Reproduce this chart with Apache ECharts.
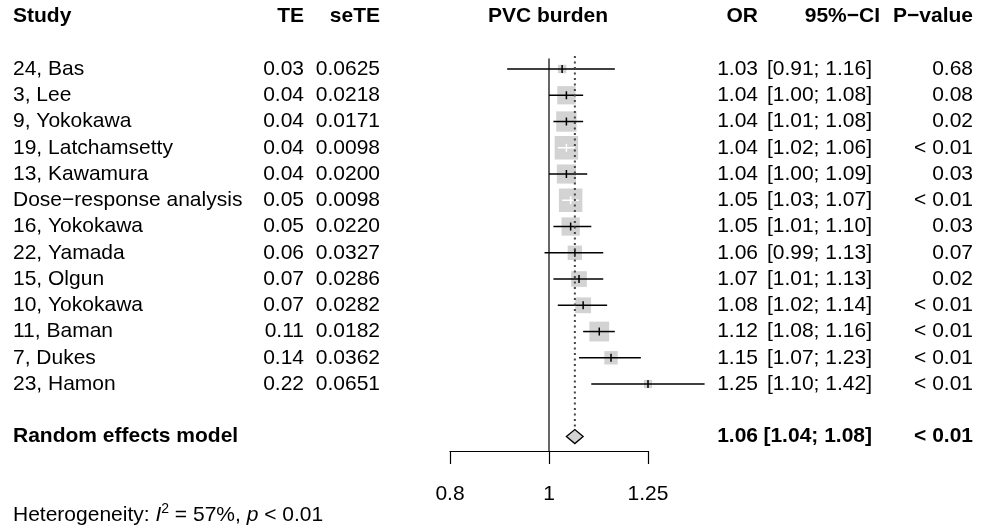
<!DOCTYPE html>
<html>
<head>
<meta charset="utf-8">
<script src="https://cdn.jsdelivr.net/npm/echarts@6/dist/echarts.min.js"></script>
<style>
  html, body { margin: 0; background: #fff; }
  #chart { width: 988px; height: 531px; }
</style>
</head>
<body>
<div id="chart"></div>
<script>
// study rows, top to bottom
const studies = ['24, Bas', '3, Lee', '9, Yokokawa', '19, Latchamsetty', '13, Kawamura',
  'Dose\u2212response analysis', '16, Yokokawa', '22, Yamada', '15, Olgun', '10, Yokokawa',
  '11, Baman', '7, Dukes', '23, Hamon'];
const te = ['0.03', '0.04', '0.04', '0.04', '0.04', '0.05', '0.05', '0.06', '0.07', '0.07', '0.11', '0.14', '0.22'];
const seTE = ['0.0625', '0.0218', '0.0171', '0.0098', '0.0200', '0.0098', '0.0220', '0.0327', '0.0286', '0.0282', '0.0182', '0.0362', '0.0651'];
const oddsRatio = [1.03, 1.04, 1.04, 1.04, 1.04, 1.05, 1.05, 1.06, 1.07, 1.08, 1.12, 1.15, 1.25];
const ciLow = [0.91, 1.00, 1.01, 1.02, 1.00, 1.03, 1.01, 0.99, 1.01, 1.02, 1.08, 1.07, 1.10];
const ciHigh = [1.16, 1.08, 1.08, 1.06, 1.09, 1.07, 1.10, 1.13, 1.13, 1.14, 1.16, 1.23, 1.42];
const pValue = ['0.68', '0.08', '0.02', '< 0.01', '0.03', '< 0.01', '0.03', '0.07', '0.02', '< 0.01', '< 0.01', '< 0.01', '< 0.01'];
// random effects weights (%)
const weight = [1.8, 8.4, 10.4, 13.9, 9.2, 13.9, 8.4, 5.2, 6.2, 6.3, 9.9, 4.5, 1.7];

// pooled estimate: [OR, lower, upper]
const pooled = [1.06, 1.04, 1.08];
const pooledP = '< 0.01';
const xTicks = [0.8, 1, 1.25];
const headers = ['Study', 'TE', 'seTE', 'PVC burden', 'OR', '95%\u2212CI', 'P\u2212value'];

const FONT = '"Liberation Sans", Arial, Helvetica, sans-serif';
const FS = 21;
const FIRST_ROW = 2, POOLED_ROW = 16, AXIS_ROW = 16.55, HET_ROW = 19;
const COL = { study: 13, te: 304, se: 380, plot: 548, or: 758, ci: 872, ciHead: 880, p: 973 };
const BOX_SCALE = 23.5 / Math.sqrt(13.9);
const ln = Math.log;

const chart = echarts.init(document.getElementById('chart'));

function txt(x, y, s, align, bold) {
  return {
    type: 'text',
    style: {
      x: x, y: y, text: s, align: align, verticalAlign: 'middle',
      font: (bold ? 'bold ' : '') + FS + 'px ' + FONT, fill: '#000'
    }
  };
}
function ciText(lo, hi) {
  return '[' + lo.toFixed(2) + '; ' + hi.toFixed(2) + ']';
}

const studyData = studies.map((s, i) => [ln(oddsRatio[i]), FIRST_ROW + i, ln(ciLow[i]), ln(ciHigh[i]), weight[i]]);
const tableRows = studies.map((s, i) => ({
  row: FIRST_ROW + i,
  cells: [s, te[i], seTE[i], oddsRatio[i].toFixed(2), ciText(ciLow[i], ciHigh[i]), pValue[i]],
  bold: false
}));
tableRows.unshift({ row: 0, cells: [headers[0], headers[1], headers[2], headers[4], headers[5], headers[6]], bold: true, title: headers[3] });
tableRows.push({ row: POOLED_ROW, cells: ['Random effects model', '', '', pooled[0].toFixed(2), ciText(pooled[1], pooled[2]), pooledP], bold: true });

chart.setOption({
  animation: false,
  grid: { left: 450, right: 340, top: 16.5, bottom: 80 },
  xAxis: {
    type: 'value',
    position: 'bottom',
    min: ln(xTicks[0]),
    max: ln(xTicks[xTicks.length - 1]),
    splitLine: { show: false },
    axisLine: { show: true, onZero: false, lineStyle: { color: '#000', width: 1.2 } },
    axisTick: { show: true, length: 13, lineStyle: { color: '#000', width: 1.2 }, customValues: xTicks.map(ln) },
    axisLabel: {
      customValues: xTicks.map(ln), margin: 33, color: '#000', fontSize: FS, fontFamily: FONT,
      formatter: v => String(xTicks.reduce((a, b) => Math.abs(ln(b) - v) < Math.abs(ln(a) - v) ? b : a))
    }
  },
  yAxis: { type: 'value', inverse: true, min: 0, max: AXIS_ROW, show: false },
  series: [
    {
      // null-effect line
      type: 'line', silent: true, symbol: 'none', clip: false,
      data: [[ln(1), 1.6], [ln(1), AXIS_ROW]],
      lineStyle: { color: '#000', width: 1.2 }
    },
    {
      // pooled estimate line
      type: 'line', silent: true, symbol: 'none', clip: false,
      data: [[ln(pooled[0]), 1.5], [ln(pooled[0]), POOLED_ROW - 0.27]],
      lineStyle: { color: '#444', width: 2, type: [2, 3.5] }
    },
    {
      type: 'custom', clip: false, silent: true,
      data: studyData,
      renderItem: (params, api) => {
        const c = api.coord([api.value(0), api.value(1)]);
        const lo = api.coord([api.value(2), api.value(1)]);
        const hi = api.coord([api.value(3), api.value(1)]);
        const size = BOX_SCALE * Math.sqrt(api.value(4));
        const inside = lo[0] >= c[0] - size / 2 && hi[0] <= c[0] + size / 2;
        const lineColor = inside ? '#fff' : '#000';
        return {
          type: 'group',
          children: [
            { type: 'rect', shape: { x: c[0] - size / 2, y: c[1] - size / 2, width: size, height: size }, style: { fill: '#d3d3d3' } },
            { type: 'line', shape: { x1: lo[0], y1: c[1], x2: hi[0], y2: c[1] }, style: { stroke: lineColor, lineWidth: 1.5 } },
            { type: 'line', shape: { x1: c[0], y1: c[1] - 4, x2: c[0], y2: c[1] + 4 }, style: { stroke: lineColor, lineWidth: 1.5 } }
          ]
        };
      }
    },
    {
      type: 'custom', clip: false, silent: true,
      data: [[ln(pooled[0]), POOLED_ROW, ln(pooled[1]), ln(pooled[2])]],
      renderItem: (params, api) => {
        const c = api.coord([api.value(0), api.value(1)]);
        const lo = api.coord([api.value(2), api.value(1)]);
        const hi = api.coord([api.value(3), api.value(1)]);
        const h = 7;
        return {
          type: 'polygon',
          shape: { points: [[lo[0], c[1]], [c[0], c[1] - h], [hi[0], c[1]], [c[0], c[1] + h]] },
          style: { fill: '#d3d3d3', stroke: '#000', lineWidth: 1.3 }
        };
      }
    },
    {
      type: 'custom', clip: false, silent: true,
      data: tableRows.map((r, i) => [0, r.row, i]),
      renderItem: (params, api) => {
        const r = tableRows[api.value(2)];
        const y = api.coord([0, r.row])[1];
        const b = r.bold;
        const children = [
          txt(COL.study, y, r.cells[0], 'left', b),
          txt(COL.te, y, r.cells[1], 'right', b),
          txt(COL.se, y, r.cells[2], 'right', b),
          txt(COL.or, y, r.cells[3], 'right', b),
          txt(r.title ? COL.ciHead : COL.ci, y, r.cells[4], 'right', b),
          txt(COL.p, y, r.cells[5], 'right', b)
        ];
        if (r.title) children.push(txt(COL.plot, y, r.title, 'center', true));
        return { type: 'group', children: children };
      }
    },
    {
      type: 'custom', clip: false, silent: true,
      data: [[0, HET_ROW]],
      renderItem: (params, api) => {
        const y = api.coord([0, api.value(1)])[1];
        return {
          type: 'text',
          style: {
            x: COL.study, y: y, verticalAlign: 'middle', align: 'left',
            text: 'Heterogeneity: {i|I}{s|2} = 57%, {i|p} < 0.01',
            font: FS + 'px ' + FONT, fill: '#000',
            rich: {
              i: { fontStyle: 'italic', fontSize: FS, fontFamily: FONT },
              s: { fontSize: 14, fontFamily: FONT, padding: [0, 0, 12, 0] }
            }
          }
        };
      }
    }
  ]
});
</script>
</body>
</html>
